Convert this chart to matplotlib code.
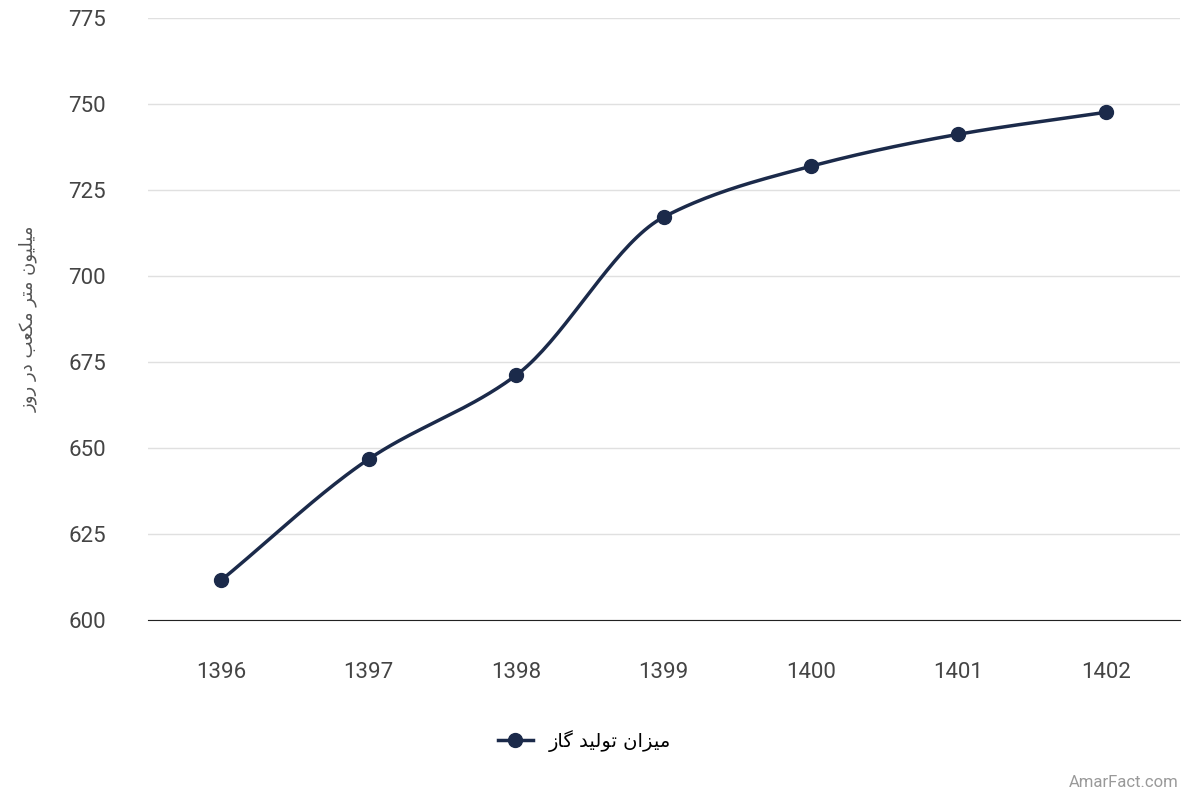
import matplotlib
matplotlib.use("Agg")
import matplotlib.pyplot as plt
import numpy as np
from matplotlib.lines import Line2D

years = ["1396", "1397", "1398", "1399", "1400", "1401", "1402"]
values = [611.6, 646.8, 671.2, 717.2, 732.0, 741.3, 747.7]
yticks = [600, 625, 650, 675, 700, 725, 750, 775]

plt.rcParams['font.family'] = ['Roboto', 'DejaVu Sans']

def vis(chars):
    return "".join(chars)[::-1]

# Persian text in presentation forms (visual order)
ylabel = " ".join([vis("\uFEE3\uFEF4\uFEE0\uFEF4\uFEEE\uFEE5"), vis("\uFEE3\uFE98\uFEAE"),
                   vis("\uFEE3\uFEDC\uFECC\uFE90"), vis("\uFEA9\uFEAD"), vis("\uFEAD\uFEED\uFEAF")][::-1])
legend_label = " ".join([vis("\uFEE3\uFEF4\uFEB0\uFE8D\uFEE5"), vis("\uFE97\uFEEE\uFEDF\uFEF4\uFEAA"),
                         vis("\uFB94\uFE8E\uFEAF")][::-1])

color = "#1b2a4a"
fig = plt.figure(figsize=(12, 8), dpi=100)
ax = fig.add_axes([0.123, 0.225, 0.86, 0.752])
x = np.arange(len(years))

# smooth drawing with monotone cubic Hermite (rendering only)
def pchip(xs, ys, n=40):
    xs = np.asarray(xs, float); ys = np.asarray(ys, float)
    h = np.diff(xs); d = np.diff(ys) / h
    m = np.zeros_like(ys)
    m[0], m[-1] = d[0], d[-1]
    for i in range(1, len(ys) - 1):
        if d[i-1] * d[i] > 0:
            m[i] = 2 / (1 / d[i-1] + 1 / d[i])
    outx, outy = [], []
    for i in range(len(xs) - 1):
        t = np.linspace(0, 1, n)
        h00 = 2*t**3 - 3*t**2 + 1; h10 = t**3 - 2*t**2 + t
        h01 = -2*t**3 + 3*t**2; h11 = t**3 - t**2
        outx.extend(xs[i] + t*h[i])
        outy.extend(h00*ys[i] + h10*h[i]*m[i] + h01*ys[i+1] + h11*h[i]*m[i+1])
    return outx, outy

sx, sy = pchip(x, values)
ax.plot(sx, sy, color=color, lw=2.5, zorder=3)
ax.plot(x, values, "o", color=color, ms=10, zorder=4)

ax.set_xlim(-0.5, 6.5)
ax.set_ylim(600, 775)
ax.set_yticks(yticks)
ax.set_xticks(x)
ax.set_xticklabels(years)
ax.grid(axis="y", color="#e0e0e0", lw=1)
ax.set_axisbelow(True)
for s in ["top", "right", "left"]:
    ax.spines[s].set_visible(False)
ax.spines["bottom"].set_color("#222222")
ax.tick_params(axis="both", length=0, labelsize=16, labelcolor="#444444")
ax.tick_params(axis="x", pad=30)
ax.tick_params(axis="y", pad=30)
ax.set_ylabel(ylabel, fontsize=13, color="#555555", family=["DejaVu Sans", "Noto Sans"], labelpad=22)

handle = Line2D([0], [0], color=color, lw=2.5, marker="o", ms=10)
fig.legend([handle], [legend_label], loc="center", bbox_to_anchor=(0.487, 0.074),
           frameon=False, prop={"family": ["DejaVu Sans", "Noto Sans"], "size": 14},
           handlelength=1.8, markerfirst=True)
fig.text(0.982, 0.012, "AmarFact.com", ha="right", va="bottom", fontsize=12, color="#999999")
fig.savefig("out.png", dpi=100)
